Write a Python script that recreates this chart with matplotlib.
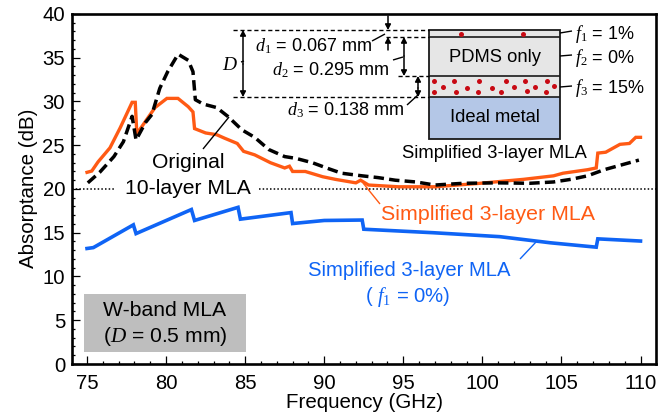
import matplotlib
matplotlib.use("Agg")
import matplotlib.pyplot as plt
from matplotlib.patches import Rectangle
from matplotlib.ticker import MultipleLocator

plt.rcParams['font.family'] = ['Liberation Sans', 'DejaVu Sans']
plt.rcParams['mathtext.fontset'] = 'custom'
plt.rcParams['mathtext.it'] = 'Liberation Serif:italic'
plt.rcParams['mathtext.rm'] = 'Liberation Serif'

orange_f = [75, 75.3, 75.7, 76.45, 77.1, 77.85, 78.05, 78.15, 78.8, 79.3, 80.05, 80.75, 81.4, 81.7, 81.8, 82.5, 83.2,
            83.7, 84.5, 84.9, 85.6, 86.6, 87.5, 87.8, 88, 88.8, 89.9, 90.7, 92, 92.3, 92.8, 94.7, 97, 99.87, 102.6,
            104.5, 105.1, 106.65, 107.2, 107.3, 107.8, 108.7, 109.3, 109.7, 110]
orange_v = [21.9, 22.05, 23.1, 24.7, 27, 29.9, 29.9, 26.3, 28, 29.3, 30.35, 30.35, 29.4, 28.8, 26.9, 26.4, 26.2,
            25.8, 25.2, 24.3, 23.9, 23, 22.4, 22.6, 22, 22, 21.4, 21.1, 20.7, 21, 20.45, 20.25, 20.25, 20.65, 21.1,
            21.5, 21.8, 22.2, 22.4, 24.1, 24.2, 25.1, 25.2, 25.9, 25.9]
black_f = [75.05, 75.8, 76.7, 77.3, 77.85, 78.1, 78.7, 79.1, 79.6, 80.1, 80.76, 81.4, 81.7, 81.85, 82.35, 83.2, 83.9,
           84.8, 85.6, 86.5, 87.5, 88.2, 89.25, 90.3, 91.1, 92.4, 93.4, 94.5, 95.8, 97, 98.8, 100.9, 103, 104.5,
           105.6, 106.65, 107.7, 108.7, 109.9]
black_v = [20.7, 21.9, 23.7, 25.4, 28.3, 25.6, 27.6, 28.5, 31.5, 33.4, 35.4, 34.7, 33.4, 30.2, 29.7, 29.3, 28.3,
           26.75, 25.9, 24.5, 23.7, 23.5, 23, 22.3, 21.8, 21.5, 21.3, 21, 20.8, 20.45, 20.65, 20.7, 20.65, 20.8,
           21.1, 21.5, 22.2, 22.7, 23.3]
blue_f = [75, 75.4, 77.93, 78.1, 81.6, 81.8, 84.55, 84.7, 87.9, 88, 90, 92.4, 92.5, 96.9, 101.1, 104.3, 107.2,
          107.3, 110]
blue_v = [13.2, 13.3, 15.9, 14.9, 17.65, 16.4, 17.9, 16.55, 17.3, 16.05, 16.4, 16.45, 15.4, 15, 14.55, 13.85, 13.35,
          14.3, 14.05]

ORANGE = '#ff5a14'
BLUE = '#0f64f5'
RED = '#c80a14'

fig = plt.figure(figsize=(6.68, 4.2), dpi=100)
W, H = 668, 420
L, R, T, B = 72, 656, 13.5, 364
ax = fig.add_axes([L / W, 1 - B / H, (R - L) / W, (B - T) / H])
ax.set_xlim(74.05, 110.98)
ax.set_ylim(0, 40.05)

ax.plot([74.05, 76.7], [20, 20], color='k', lw=1.1, ls=(0, (1, 1.4)), zorder=1)
ax.plot([85.9, 110.98], [20, 20], color='k', lw=1.1, ls=(0, (1, 1.4)), zorder=1)
ax.plot(orange_f, orange_v, color=ORANGE, lw=2.4, zorder=3, solid_joinstyle='miter')
ax.plot(black_f, black_v, color='k', lw=2.5, ls=(0, (3.0, 1.5)), zorder=4)
ax.plot(blue_f, blue_v, color=BLUE, lw=2.6, zorder=3, solid_joinstyle='miter')

ax.set_xlabel('Frequency (GHz)', fontsize=14.8, labelpad=0)
ax.set_ylabel('Absorptance (dB)', fontsize=14.8, labelpad=3)
ax.xaxis.set_major_locator(MultipleLocator(5))
ax.xaxis.set_minor_locator(MultipleLocator(1))
ax.yaxis.set_major_locator(MultipleLocator(5))
ax.yaxis.set_minor_locator(MultipleLocator(1))
ax.tick_params(which='major', direction='in', length=5.5, width=0.9, labelsize=14.6, pad=7)
ax.tick_params(which='minor', direction='in', length=2.5, width=0.9)
ax.tick_params(axis='y', which='major', pad=5)
for s in ax.spines.values():
    s.set_linewidth(1.9)

# overlay in pixel coordinates for annotations and the inset schematic
ov = fig.add_axes([0, 0, 1, 1], facecolor='none', zorder=5)
ov.set_xlim(0, W)
ov.set_ylim(H, 0)
ov.axis('off')


def txt(x, y, s, **kw):
    kw.setdefault('fontsize', 13)
    kw.setdefault('ha', 'center')
    kw.setdefault('va', 'center')
    ov.text(x, y, s, **kw)


def seg(x0, y0, x1, y1, color='k', lw=1.0, **kw):
    ov.plot([x0, x1], [y0, y1], color=color, lw=lw, solid_capstyle='butt', **kw)


def arrow(x, y0, y1):
    ov.annotate('', xy=(x, y1), xytext=(x, y0),
                arrowprops=dict(arrowstyle='-|>,head_width=0.17,head_length=0.32', color='k', lw=1.1,
                                shrinkA=0, shrinkB=0))


# grey box
ov.add_patch(Rectangle((84, 294), 162, 58, fc='#bebebe', ec='none'))
txt(165, 311, 'W-band MLA', fontsize=15.2)
txt(165, 337, r'($\mathit{D}$ = 0.5 mm)', fontsize=15.2)

# curve labels
txt(188, 162, 'Original', fontsize=15.2)
txt(188, 189, '10-layer MLA', fontsize=15.2)
seg(203, 149, 229, 117)
txt(488, 214, 'Simplified 3-layer MLA', color=ORANGE, fontsize=15.4)
seg(363, 183, 380, 204, color=ORANGE)
txt(409, 271, 'Simplified 3-layer MLA', color=BLUE, fontsize=14.6)
txt(408, 297, r'( $\mathit{f}_{1}$ = 0%)', color=BLUE, fontsize=14.6)
seg(520, 259, 536, 242, color=BLUE)

# layered schematic
x0, x1 = 429, 560
ov.add_patch(Rectangle((x0, 30), x1 - x0, 67, fc='#e6e6e6', ec='none'))
ov.add_patch(Rectangle((x0, 97), x1 - x0, 42, fc='#b4c7e7', ec='none'))
ov.add_patch(Rectangle((x0, 30), x1 - x0, 109, fc='none', ec='#1a1a1a', lw=1.3))
for y in (37, 76, 97):
    seg(x0, y, x1, y, color='#1a1a1a', lw=1.2)
dots_x = [461, 523, 434, 443, 434, 454, 456, 467, 479, 478, 492, 501, 506, 514, 525, 527, 535, 547, 546, 554]
dots_y = [33.5, 33.5, 81, 87, 92, 81, 92, 88, 81, 92, 88, 92, 81, 87, 81, 91, 87, 81, 92, 86]
ov.scatter(dots_x, dots_y, s=13, color=RED, linewidths=0, zorder=6)
txt(495, 57, 'PDMS only', fontsize=13.2)
txt(495, 118, 'Ideal metal', fontsize=13.2)
txt(494, 153, 'Simplified 3-layer MLA', fontsize=13.3)

# dimension lines
dash = (0, (3, 2))
seg(233, 30, x0, 30, ls=dash)
seg(386, 37, x0, 37, ls=dash)
seg(398, 76, x0, 76, ls=dash)
seg(233, 97, x0, 97, ls=dash)

arrow(243, 64, 30); arrow(243, 64, 97)
arrow(388, 16, 30)
arrow(388, 50, 37)
arrow(404, 56, 37); arrow(404, 56, 76)
arrow(418, 88, 76); arrow(418, 88, 97)

seg(241, 62, 244, 61)
seg(372, 41, 385, 34)
seg(393, 60, 403, 57)
seg(407, 105, 419, 94)

lab = dict(ha='left', fontsize=13)
txt(222, 66, r'$\mathit{D}$', ha='left', fontsize=14)
txt(255, 46, r'$\mathit{d}_{1}$ = 0.067 mm', **lab)
txt(272, 70, r'$\mathit{d}_{2}$ = 0.295 mm', **lab)
txt(287, 110, r'$\mathit{d}_{3}$ = 0.138 mm', **lab)

seg(560, 33, 572, 31)
seg(560, 56, 572, 55)
seg(560, 87, 572, 86)
txt(575, 34, r'$\mathit{f}_{1}$ = 1%', **lab)
txt(575, 58, r'$\mathit{f}_{2}$ = 0%', **lab)
txt(575, 88, r'$\mathit{f}_{3}$ = 15%', **lab)

fig.savefig('out.png', dpi=100)
